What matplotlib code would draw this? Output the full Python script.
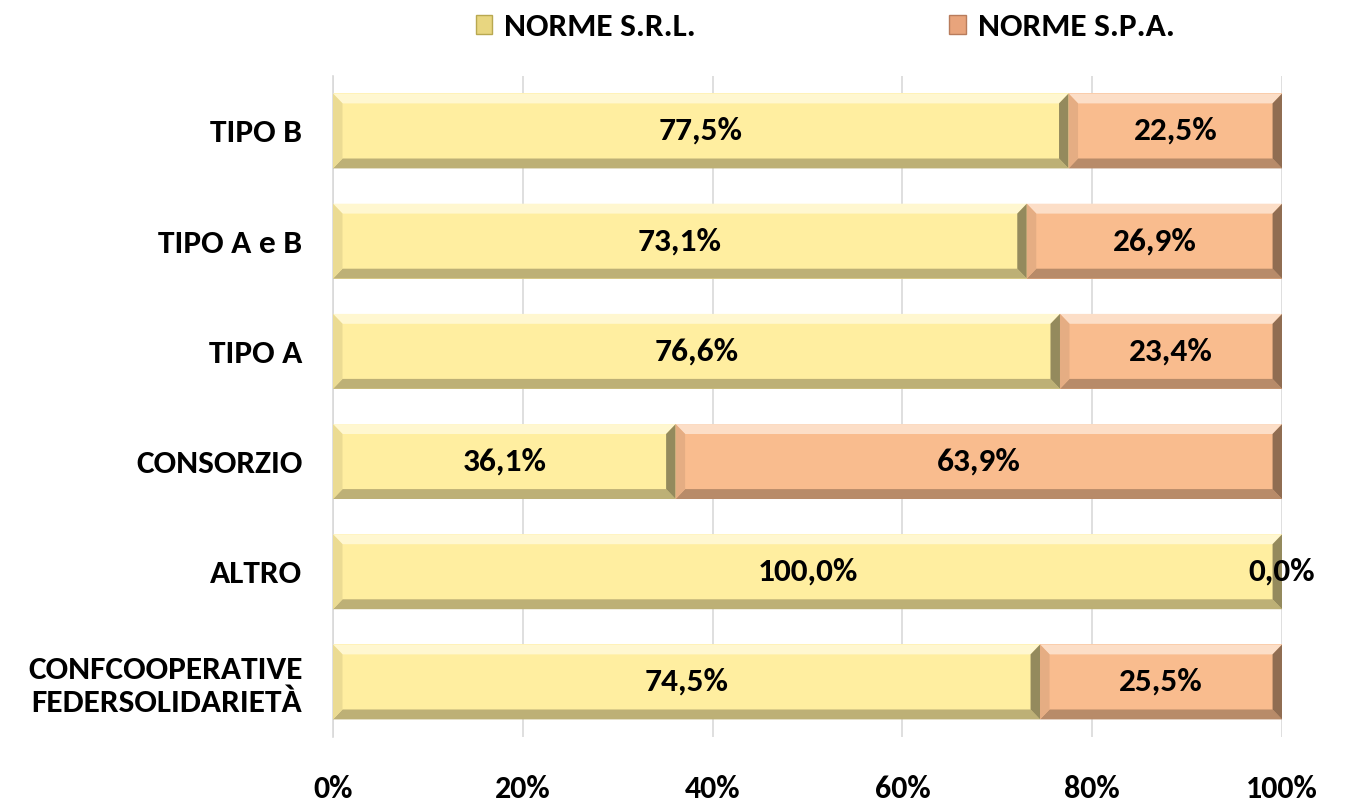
import matplotlib
matplotlib.use("Agg")
import matplotlib.pyplot as plt
from matplotlib.patches import Polygon, Patch
from matplotlib.ticker import FuncFormatter
import numpy as np

plt.rcParams['font.family'] = ['Carlito', 'Lato', 'DejaVu Sans']
plt.rcParams['font.weight'] = 'bold'

categories = ["CONFCOOPERATIVE\nFEDERSOLIDARIETÀ", "ALTRO", "CONSORZIO", "TIPO A", "TIPO A e B", "TIPO B"]
srl = [74.5, 100.0, 36.1, 76.6, 73.1, 77.5]
spa = [25.5, 0.0, 63.9, 23.4, 26.9, 22.5]
series_names = ["NORME S.R.L.", "NORME S.P.A."]
xticks = [0, 20, 40, 60, 80, 100]

col_srl = "#FFEEA0"
col_spa = "#F9BC8E"

fig = plt.figure(figsize=(13.46, 8.07), dpi=100)
ax = fig.add_axes([0.2474, 0.0867, 0.7051, 0.8193])

y = np.arange(len(categories))
h = 0.68
b1 = ax.barh(y, srl, height=h, color=col_srl, edgecolor="none", zorder=2)
b2 = ax.barh(y, spa, left=srl, height=h, color=col_spa, edgecolor="none", zorder=2)


def shade(c, f):
    c = np.array(matplotlib.colors.to_rgb(c))
    if f >= 0:
        return tuple(c + (1 - c) * f)
    return tuple(c * (1 + f))


def bevel(bars, color):
    bw = 1.0   # bevel width in x data units
    bh = 0.09  # bevel height in y data units
    for r in bars:
        x0, y0 = r.get_x(), r.get_y()
        w, hh = r.get_width(), r.get_height()
        if w <= 0:
            continue
        x1, y1 = x0 + w, y0 + hh
        dx = min(bw, w / 2)
        polys = [
            ([(x0, y1), (x1, y1), (x1 - dx, y1 - bh), (x0 + dx, y1 - bh)], shade(color, 0.5)),
            ([(x0, y0), (x1, y0), (x1 - dx, y0 + bh), (x0 + dx, y0 + bh)], shade(color, -0.26)),
            ([(x0, y0), (x0 + dx, y0 + bh), (x0 + dx, y1 - bh), (x0, y1)], shade(color, -0.08)),
            ([(x1, y0), (x1 - dx, y0 + bh), (x1 - dx, y1 - bh), (x1, y1)], shade(color, -0.42)),
        ]
        for pts, c in polys:
            ax.add_patch(Polygon(pts, closed=True, facecolor=c, edgecolor="none", zorder=3))


bevel(b1, col_srl)
bevel(b2, col_spa)

fs = 24
fmt = lambda v: f"{v:.1f}".replace(".", ",") + "%"
for i in range(len(categories)):
    ax.text(srl[i] / 2, y[i], fmt(srl[i]), ha="center", va="center", fontsize=fs, fontweight="bold", zorder=5)
    ax.text(srl[i] + spa[i] / 2, y[i], fmt(spa[i]), ha="center", va="center", fontsize=fs, fontweight="bold", zorder=5)

ax.set_xlim(0, 100)
ax.set_ylim(-0.5, len(categories) - 0.5)
ax.set_xticks(xticks)
ax.xaxis.set_major_formatter(FuncFormatter(lambda v, p: f"{int(v)}%"))
ax.set_yticks(y)
ax.set_yticklabels(categories, fontsize=fs, fontweight="bold", linespacing=1.2)
ax.tick_params(axis="x", labelsize=23, length=0, pad=27)
ax.tick_params(axis="y", length=0, pad=22)
for lab in ax.get_xticklabels():
    lab.set_fontweight("bold")
ax.grid(axis="x", color="#D9D9D9", linewidth=1.2, zorder=0)
ax.set_axisbelow(True)
for s in ["top", "right", "bottom"]:
    ax.spines[s].set_visible(False)
ax.spines["left"].set_color("#D9D9D9")
ax.spines["left"].set_linewidth(1.2)

handles = [Patch(facecolor="#E8D680", edgecolor="#B8A850"), Patch(facecolor="#E8A47C", edgecolor="#B87C5C")]
fig.legend(handles, series_names, loc="center", bbox_to_anchor=(0.613, 0.966), ncol=2,
           frameon=False, prop={"size": fs, "weight": "bold"}, handlelength=0.5, handleheight=0.5,
           handletextpad=0.35, columnspacing=7.6)

fig.savefig("out.png", dpi=100)
